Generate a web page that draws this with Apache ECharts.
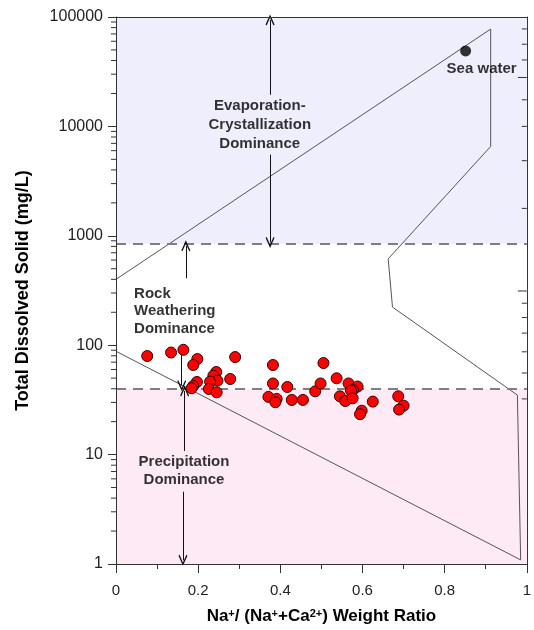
<!DOCTYPE html>
<html>
<head>
<meta charset="utf-8">
<script src="https://cdn.jsdelivr.net/npm/echarts@6/dist/echarts.min.js"></script>
<style>html,body{margin:0;padding:0;background:#fff;}#c{width:534px;height:630px;}</style>
</head>
<body>
<div id="c"></div>
<script>
// ---- sample data: Na+/(Na+ + Ca2+) weight ratio vs TDS (mg/L)
const naRatio = [0.076,0.134,0.164,0.198,0.188,0.290,0.244,0.237,0.247,0.229,0.226,0.245,0.197,0.188,0.184,0.278,
  0.382,0.382,0.417,0.371,0.391,0.388,0.428,0.455,0.485,0.498,0.505,0.537,0.566,0.588,0.577,0.572,0.545,0.558,0.576,
  0.625,0.598,0.594,0.687,0.700,0.689];
const tds = [79.6,85.7,90.8,74.7,65.9,77.9,56.9,52.6,47.4,46.4,39.8,37.1,46.1,42.4,40.4,49.1,
  65.9,44.7,41.5,33.7,32.3,30.1,31.6,31.6,37.9,44.7,68.7,49.8,44.7,41.9,39.0,38.4,34.1,30.9,32.7,
  30.5,25.2,23.4,34.1,28.0,25.8];
// sea water reference
const seaX = [0.851];
const seaY = [49000];
// Gibbs boundary lines
const upperLineX = [0, 0.912];
const upperLineY = [400, 77600];
const lowerLineX = [0, 0.985];
const lowerLineY = [88, 1.09];
const rightLineX = [0.912, 0.912, 0.6625, 0.673, 0.977, 0.985];
const rightLineY = [77600, 6560, 615, 223, 35, 1.09];
// zone limits (TDS)
const zoneLimits = [40, 840];
// y axis
const yTicks = [1, 10, 100, 1000, 10000, 100000];
const yMinorTicks = [2,3,4,5,6,7,8,9,20,30,40,50,60,70,80,90,200,300,400,500,600,700,800,900,
  2000,3000,4000,5000,6000,7000,8000,9000,20000,30000,40000,50000,60000,70000,80000,90000];
const rightMajorTicks = [28000, 313];
const rightMinorTicks = [77800, 56400, 40500, 17500, 10000, 4860, 1780, 242, 179, 129, 87, 55.7, 32.3];
// arrows: [x1,y1,x2,y2]
const arrows = [
  [0.375, 19450, 0.375, 94000],
  [0.375, 5520, 0.375, 870],
  [0.170, 409, 0.170, 810],
  [0.160, 81, 0.160, 42.7],
  [0.167, 10.8, 0.167, 38.2],
  [0.163, 4.58, 0.163, 1.08]
];
const notes = [
  {text: 'Evaporation-\nCrystallization\nDominance', x: 0.350, y: 10350, align: 'center', lh: 19},
  {text: 'Rock\nWeathering\nDominance', x: 0.044, y: 206, align: 'left', lh: 17.5},
  {text: 'Precipitation\nDominance', x: 0.1655, y: 7.1, align: 'center', lh: 18},
  {text: 'Sea water', x: 0.890, y: 33600, align: 'center', lh: 16}
];

const FONT = '"Liberation Sans", Arial, sans-serif';
const axisColor = '#333';
const arrowPath = 'path://M5,0 L10,9 L8.8,9.8 L5,3 L1.2,9.8 L0,9 Z';

const chart = echarts.init(document.getElementById('c'), null, {renderer: 'canvas'});

function tickSeries(values, xPos, len, dir) {
  return {
    type: 'custom', xAxisIndex: 0, yAxisIndex: 0, clip: false, silent: true, z: 20,
    data: values.map(v => [xPos, v]),
    renderItem: function (params, api) {
      const p = api.coord([api.value(0), api.value(1)]);
      return {type: 'line', shape: {x1: p[0], y1: p[1], x2: p[0] + dir * len, y2: p[1]},
        style: {stroke: axisColor, lineWidth: 1}};
    }
  };
}

const option = {
  animation: false,
  backgroundColor: '#fff',
  grid: {left: 116, right: 7, top: 17, bottom: 65},
  xAxis: [{
    type: 'value', min: 0, max: 1, interval: 0.2, z: 10,
    axisLine: {show: true, onZero: false, lineStyle: {color: axisColor, width: 1}},
    axisTick: {show: true, length: 9, lineStyle: {color: axisColor}},
    minorTick: {show: true, splitNumber: 2, length: 5, lineStyle: {color: axisColor}},
    splitLine: {show: false},
    axisLabel: {color: '#222', fontFamily: FONT, fontSize: 15, margin: 19},
    name: 'Na{sup|+}/ (Na{sup|+}+Ca{sup|2+}) Weight Ratio', nameLocation: 'middle', nameGap: 44,
    nameTextStyle: {color: '#000', fontFamily: FONT, fontSize: 17, fontWeight: 'bold',
      rich: {sup: {fontFamily: FONT, fontSize: 11, fontWeight: 'bold', color: '#000', verticalAlign: 'top'}}}
  }, {
    type: 'value', min: 0, max: 1, position: 'top', z: 10,
    axisLine: {show: true, onZero: false, lineStyle: {color: axisColor, width: 1}},
    axisTick: {show: false}, axisLabel: {show: false}, splitLine: {show: false}
  }],
  yAxis: [{
    type: 'log', logBase: 10, min: 1, max: 100000, z: 10,
    axisLine: {show: true, onZero: false, lineStyle: {color: axisColor, width: 1}},
    axisTick: {show: true, length: 8, lineStyle: {color: axisColor}},
    minorTick: {show: false},
    splitLine: {show: false},
    axisLabel: {color: '#222', fontFamily: FONT, fontSize: 16, margin: 13,
      formatter: v => String(Math.round(v))},
    name: 'Total Dissolved Solid (mg/L)', nameLocation: 'middle', nameGap: 84, nameRotate: 90,
    nameTextStyle: {color: '#000', fontFamily: FONT, fontSize: 18, fontWeight: 'bold'}
  }, {
    type: 'log', logBase: 10, min: 1, max: 100000, position: 'right', z: 10,
    axisLine: {show: true, onZero: false, lineStyle: {color: axisColor, width: 1}},
    axisTick: {show: false}, axisLabel: {show: false}, splitLine: {show: false}
  }],
  series: [
    {
      name: 'zones', type: 'line', data: [], silent: true,
      markArea: {silent: true, data: [
        [{yAxis: zoneLimits[1], itemStyle: {color: '#eeeefc'}}, {yAxis: 100000}],
        [{yAxis: 1, itemStyle: {color: '#fdeaf4'}}, {yAxis: zoneLimits[0]}]
      ]},
      markLine: {silent: true, symbol: ['none', 'none'], label: {show: false},
        lineStyle: {color: '#7f7f7f', width: 2, type: [10, 7]},
        data: zoneLimits.map(v => ({yAxis: v}))}
    },
    {
      name: 'upper', type: 'line', symbol: 'none', silent: true, z: 3,
      lineStyle: {color: '#555', width: 1},
      data: upperLineX.map((x, i) => [x, upperLineY[i]])
    },
    {
      name: 'lower', type: 'line', symbol: 'none', silent: true, z: 3,
      lineStyle: {color: '#555', width: 1},
      data: lowerLineX.map((x, i) => [x, lowerLineY[i]])
    },
    {
      name: 'right', type: 'line', symbol: 'none', silent: true, z: 3,
      lineStyle: {color: '#555', width: 1},
      data: rightLineX.map((x, i) => [x, rightLineY[i]])
    },
    {
      name: 'arrows', type: 'line', data: [], silent: true, z: 4,
      markLine: {silent: true, symbol: ['none', arrowPath], symbolSize: [9, 11], label: {show: false},
        lineStyle: {color: '#111', width: 1, type: 'solid'},
        data: arrows.map(a => [{coord: [a[0], a[1]]}, {coord: [a[2], a[3]]}])}
    },
    {
      name: 'samples', type: 'scatter', symbol: 'circle', symbolSize: 11, z: 6,
      itemStyle: {color: '#ff0000', borderColor: '#3a0000', borderWidth: 1, opacity: 1},
      data: naRatio.map((x, i) => [x, tds[i]])
    },
    {
      name: 'sea', type: 'scatter', symbol: 'circle', symbolSize: 11, z: 6,
      itemStyle: {color: '#000'},
      data: seaX.map((x, i) => [x, seaY[i]])
    },
    {
      name: 'notes', type: 'scatter', symbolSize: 0, silent: true, z: 7,
      data: notes.map(n => ({
        value: [n.x, n.y],
        label: {show: true, position: 'inside', formatter: n.text, align: n.align, verticalAlign: 'middle',
          color: '#000', fontFamily: FONT, fontSize: 15, fontWeight: 'bold', lineHeight: n.lh}
      }))
    },
    tickSeries(yMinorTicks, 0, 5, -1),
    tickSeries(rightMajorTicks, 1, 9, -1),
    tickSeries(rightMinorTicks, 1, 5, -1)
  ]
};
chart.setOption(option);
</script>
</body>
</html>
